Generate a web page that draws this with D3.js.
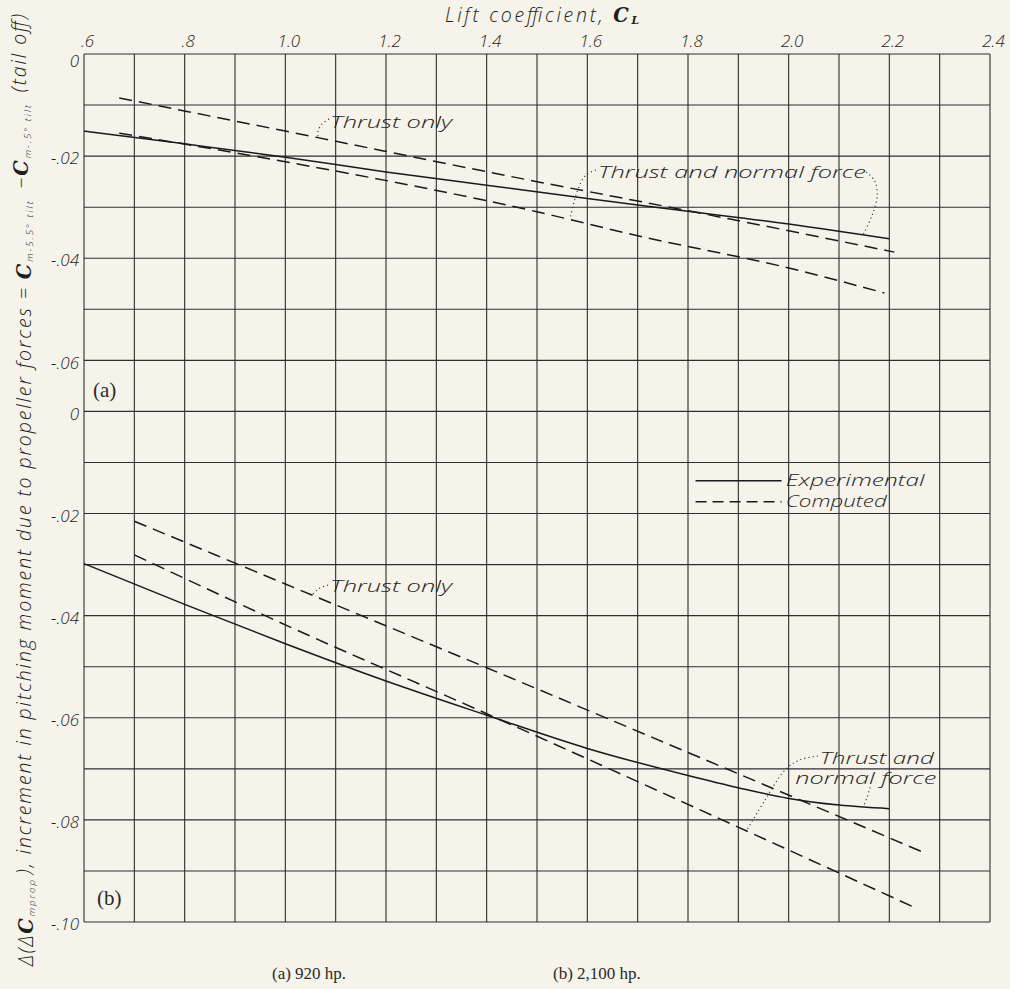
<!DOCTYPE html>
<html>
<head>
<meta charset="utf-8">
<script src="https://cdn.jsdelivr.net/npm/d3@7"></script>
<style>
    html, body { margin: 0; padding: 0; background: #f5f3ea; }
    svg { display: block; }
    .grid line { stroke: #2e2e2e; stroke-width: 1.1; }
    .letter { font-family: "Open Sans", "DejaVu Sans", sans-serif; font-style: italic; font-weight: 300; fill: #1e1e1e; }
    .serif { font-family: "Liberation Serif", "DejaVu Serif", serif; fill: #2a2a2a; }
    .curve { fill: none; stroke: #1a1a1a; stroke-width: 1.5; }
    .leader { fill: none; stroke: #333; stroke-width: 1.1; stroke-dasharray: 1.2, 3; }
    .bigC { font-family: "DejaVu Serif", serif; font-weight: bold; }
</style>
</head>
<body>
<script>
// tick values and labels
const clTicks = [0.6, 0.8, 1.0, 1.2, 1.4, 1.6, 1.8, 2.0, 2.2, 2.4];
const clLabels = [".6", ".8", "1.0", "1.2", "1.4", "1.6", "1.8", "2.0", "2.2", "2.4"];
const aTicks = [0, -0.02, -0.04, -0.06];
const aLabels = ["0", "-.02", "-.04", "-.06"];
const bTicks = [0, -0.02, -0.04, -0.06, -0.08, -0.10];
const bLabels = ["0", "-.02", "-.04", "-.06", "-.08", "-.10"];

// (a) 920 hp
const clExpA = [0.6, 0.8, 1.0, 1.2, 1.4, 1.6, 1.8, 2.0, 2.2];
const cmExpA = [-0.0151, -0.0176, -0.0202, -0.0231, -0.0257, -0.0283, -0.0308, -0.0333, -0.0362];
const clThrustA = [0.67, 1.0, 1.5, 1.8, 2.21];
const cmThrustA = [-0.0086, -0.0151, -0.0250, -0.0307, -0.0388];
const clNormA = [0.67, 1.0, 1.5, 1.7, 2.0, 2.19];
const cmNormA = [-0.0155, -0.0211, -0.0309, -0.0356, -0.0419, -0.0468];

// (b) 2,100 hp
const clExpB = [0.6, 0.8, 1.0, 1.2, 1.4, 1.6, 1.8, 1.9, 2.0, 2.1, 2.2];
const cmExpB = [-0.0298, -0.0378, -0.0455, -0.0528, -0.0595, -0.0660, -0.0713, -0.0737, -0.0758, -0.0771, -0.0778];
const clThrustB = [0.7, 1.0, 1.4, 1.8, 2.264];
const cmThrustB = [-0.0215, -0.0338, -0.0502, -0.0668, -0.0862];
const clNormB = [0.7, 1.0, 1.4, 1.7, 2.247];
const cmNormB = [-0.0281, -0.0418, -0.0592, -0.0725, -0.0970];

const width = 1010, height = 989;
const svg = d3.select("body").append("svg")
    .attr("width", width)
    .attr("height", height);

// scales: both panels share the same paper grid, 0.01 per square
const plotTop = 54, step = 51.06;
const x = d3.scaleLinear().domain([0.6, 2.4]).range([84, 990]);
const ya = d3.scaleLinear().domain([0, -0.07]).range([plotTop, plotTop + 7 * step]);
const yb = d3.scaleLinear().domain([0, -0.10]).range([plotTop + 7 * step, plotTop + 17 * step]);

// grid
const grid = svg.append("g").attr("class", "grid");
grid.selectAll(".v").data(d3.range(0.6, 2.4001, 0.1))
    .enter().append("line")
    .attr("x1", d => x(d)).attr("x2", d => x(d))
    .attr("y1", ya(0)).attr("y2", yb(-0.10));
grid.selectAll(".ha").data(d3.range(0, -0.0701, -0.01))
    .enter().append("line")
    .attr("x1", x(0.6)).attr("x2", x(2.4))
    .attr("y1", d => ya(d)).attr("y2", d => ya(d));
grid.selectAll(".hb").data(d3.range(-0.01, -0.1001, -0.01))
    .enter().append("line")
    .attr("x1", x(0.6)).attr("x2", x(2.4))
    .attr("y1", d => yb(d)).attr("y2", d => yb(d));

// top axis labels
const xAxis = d3.axisTop(x).tickValues(clTicks).tickFormat((d, i) => clLabels[i]).tickSize(0).tickPadding(7);
const gx = svg.append("g").attr("transform", `translate(3,${plotTop})`).call(xAxis);
gx.select(".domain").remove();
gx.selectAll("text").attr("class", "letter").style("font-size", "17px").attr("fill", null);

// y labels for both panels
function yLabels(scale, ticks, labels) {
    const ax = d3.axisLeft(scale).tickValues(ticks).tickFormat((d, i) => labels[i]).tickSize(0).tickPadding(5);
    const g = svg.append("g").attr("transform", `translate(${x(0.6)},0)`).call(ax);
    g.select(".domain").remove();
    g.selectAll("text").attr("class", "letter").style("font-size", "17px").attr("fill", null).attr("dy", "0.45em");
    return g;
}
const gya = yLabels(ya, aTicks, aLabels);
gya.selectAll("text").filter(d => d === 0).attr("dy", "0.75em");
yLabels(yb, bTicks, bLabels);

// x title
const xt = svg.append("text").attr("class", "letter")
    .attr("x", 445).attr("y", 22).style("font-size", "19.5px")
    .attr("textLength", 194).attr("lengthAdjust", "spacing");
xt.append("tspan").text("Lift coefficient, ");
xt.append("tspan").attr("class", "bigC").text("C");
xt.append("tspan").attr("class", "bigC").style("font-size", "0.55em").attr("dy", "0.2em").text("L");

// y title
const yt = svg.append("text").attr("class", "letter")
    .attr("transform", `translate(33,966) rotate(-90)`)
    .style("font-size", "19.5px")
    .attr("textLength", 952).attr("lengthAdjust", "spacing");
function sub(t, s) {
    t.append("tspan").style("font-size", "0.5em").attr("dy", "0.25em").text(s);
    t.append("tspan").attr("dy", "-0.25em").text("\u200a");
}
yt.append("tspan").text("\u0394(\u0394");
yt.append("tspan").attr("class", "bigC").text("C");
sub(yt, "mprop");
yt.append("tspan").text("), increment in pitching moment due to propeller forces = ");
yt.append("tspan").attr("class", "bigC").text("C");
sub(yt, "m-5.5\u00b0 tilt");
yt.append("tspan").text(" \u2212");
yt.append("tspan").attr("class", "bigC").text("C");
sub(yt, "m-.5\u00b0 tilt");
yt.append("tspan").text(" (tail off)");

// curves
const line = (sy) => d3.line().x(d => x(d[0])).y(d => sy(d[1])).curve(d3.curveMonotoneX);
const series = [
    {cl: clExpA, cm: cmExpA, y: ya, dash: null},
    {cl: clThrustA, cm: cmThrustA, y: ya, dash: "13,7"},
    {cl: clNormA, cm: cmNormA, y: ya, dash: "13,7"},
    {cl: clExpB, cm: cmExpB, y: yb, dash: null},
    {cl: clThrustB, cm: cmThrustB, y: yb, dash: "13,7"},
    {cl: clNormB, cm: cmNormB, y: yb, dash: "13,7"}
];
svg.selectAll(".curve").data(series)
    .enter().append("path")
    .attr("class", "curve")
    .attr("stroke-dasharray", d => d.dash)
    .attr("d", d => line(d.y)(d.cl.map((c, i) => [c, d.cm[i]])));

// annotations (data coordinates); two-line notes are one text with tspans
const notes = [
    {y: ya, lines: [{t: "Thrust only", at: [1.089, -0.0145], len: 122}]},
    {y: ya, lines: [{t: "Thrust and normal force", at: [1.621, -0.0243], len: 268}]},
    {y: yb, lines: [{t: "Thrust only", at: [1.089, -0.0354], len: 122}]},
    {y: yb, lines: [{t: "Thrust and", at: [2.062, -0.0690], len: 114},
                    {t: "normal force", at: [2.013, -0.0730], len: 141}]},
    {y: yb, lines: [{t: "Experimental", at: [1.994, -0.0147], len: 139},
                    {t: "Computed", at: [1.994, -0.0188], len: 101}]}
];
const note = svg.selectAll(".note").data(notes)
    .enter().append("text")
    .attr("class", "letter")
    .style("font-size", "17px");
note.selectAll("tspan").data(d => d.lines.map(l => Object.assign({y: d.y}, l)))
    .enter().append("tspan")
    .attr("x", d => x(d.at[0])).attr("y", d => d.y(d.at[1]))
    .attr("textLength", d => d.len).attr("lengthAdjust", "spacingAndGlyphs")
    .text(d => d.t);

const leaders = [
    {y: ya, p: [[1.087, -0.0127], [1.073, -0.0137], [1.065, -0.0151], [1.065, -0.0165]]},
    {y: ya, p: [[1.617, -0.0227], [1.597, -0.0237], [1.581, -0.0266], [1.566, -0.0321]]},
    {y: ya, p: [[2.154, -0.0231], [2.170, -0.0247], [2.176, -0.0276], [2.166, -0.0315], [2.148, -0.0354]]},
    {y: yb, p: [[1.085, -0.0340], [1.065, -0.0348], [1.053, -0.0360]]},
    {y: yb, p: [[2.058, -0.0675], [2.023, -0.0682], [1.993, -0.0702], [1.953, -0.0761], [1.917, -0.0820]]},
    {y: yb, p: [[2.162, -0.0736], [2.156, -0.0755], [2.148, -0.0775]]}
];
svg.selectAll(".leader").data(leaders)
    .enter().append("path")
    .attr("class", "leader")
    .attr("d", d => d3.line().x(p => x(p[0])).y(p => d.y(p[1])).curve(d3.curveCatmullRom)(d.p));

// legend keys
const keys = [
    {v: -0.0136, dash: null},
    {v: -0.0177, dash: "11,6"}
];
svg.selectAll(".key").data(keys)
    .enter().append("line")
    .attr("class", "curve")
    .attr("x1", x(1.815)).attr("x2", x(1.986))
    .attr("y1", d => yb(d.v)).attr("y2", d => yb(d.v))
    .attr("stroke-dasharray", d => d.dash);

// panel tags and captions
svg.append("text").attr("class", "serif").attr("x", 93).attr("y", 397).style("font-size", "21px").text("(a)");
svg.append("text").attr("class", "serif").attr("x", 97).attr("y", 905).style("font-size", "21px").text("(b)");
svg.append("text").attr("class", "serif").attr("x", 272).attr("y", 979).style("font-size", "17px").text("(a)  920 hp.");
svg.append("text").attr("class", "serif").attr("x", 553).attr("y", 979).style("font-size", "17px").text("(b)  2,100 hp.");
</script>
</body>
</html>
